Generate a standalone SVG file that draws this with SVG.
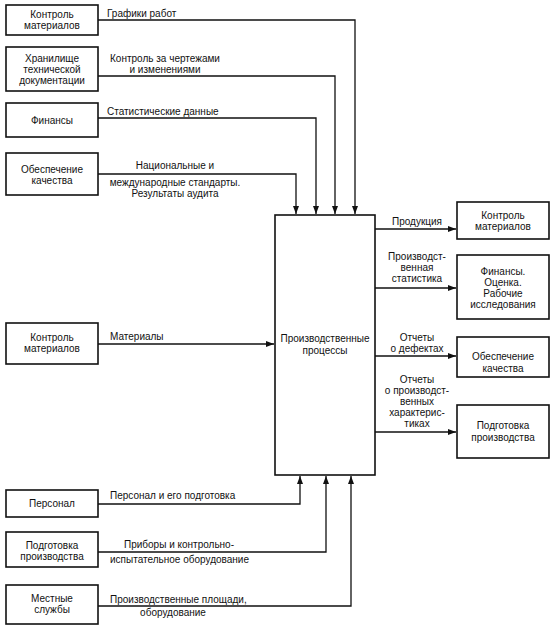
<svg xmlns="http://www.w3.org/2000/svg" width="555" height="629" viewBox="0 0 555 629">
<defs>
<marker id="ah" viewBox="0 0 8 6" refX="8" refY="3" markerWidth="8" markerHeight="6" markerUnits="userSpaceOnUse" orient="auto">
<path d="M0,0 L8,3 L0,6 Z" fill="#111"/>
</marker>
</defs>
<style>
.box{fill:#fff;stroke:#111;stroke-width:1.6}
.ln{fill:none;stroke:#111;stroke-width:1.3;marker-end:url(#ah)}
text{font-family:"Liberation Sans",Arial,sans-serif;font-size:10px;fill:#111}
.c{text-anchor:middle}
</style>
<rect width="555" height="629" fill="#fff"/>
<g id="connectors">
<path class="ln" d="M98,20 H355 V214"/>
<path class="ln" d="M98,76 H335 V214"/>
<path class="ln" d="M98,118 H316 V214"/>
<path class="ln" d="M98,174 H296 V214"/>
<path class="ln" d="M98,344 H274"/>
<path class="ln" d="M98,504 H300 V476"/>
<path class="ln" d="M98,552 H326 V476"/>
<path class="ln" d="M98,606 H351 V476"/>
<path class="ln" d="M375,229 H456"/>
<path class="ln" d="M375,288 H456"/>
<path class="ln" d="M375,356 H456"/>
<path class="ln" d="M375,432 H456"/>
<text x="107" y="17">Графики работ</text>
<text class="c" x="165" y="62">Контроль за чертежами</text>
<text class="c" x="165" y="73">и изменениями</text>
<text x="107" y="115">Статистические данные</text>
<text class="c" x="175" y="169">Национальные и</text>
<text class="c" x="175" y="186">международные стандарты.</text>
<text class="c" x="175" y="197">Результаты аудита</text>
<text x="110" y="340">Материалы</text>
<text x="110" y="499">Персонал и его подготовка</text>
<text class="c" x="179" y="548">Приборы и контрольно-</text>
<text x="110" y="563">испытательное оборудование</text>
<text x="110" y="603">Производственные площади,</text>
<text class="c" x="173" y="616">оборудование</text>
<text class="c" x="417" y="225">Продукция</text>
<text class="c" x="417" y="260">Производст-</text>
<text class="c" x="417" y="271">венная</text>
<text class="c" x="417" y="282">статистика</text>
<text class="c" x="417" y="341">Отчеты</text>
<text class="c" x="417" y="352">о дефектах</text>
<text class="c" x="417" y="383">Отчеты</text>
<text class="c" x="417" y="394">о производст-</text>
<text class="c" x="417" y="405">венных</text>
<text class="c" x="417" y="416">характерис-</text>
<text class="c" x="417" y="427">тиках</text>
</g>
<g id="n1"><rect class="box" x="6" y="5" width="92" height="30"/><text class="c" x="52" y="18">Контроль</text><text class="c" x="52" y="29">материалов</text></g>
<g id="n2"><rect class="box" x="6" y="47" width="92" height="44"/><text class="c" x="52" y="62">Хранилище</text><text class="c" x="52" y="73">технической</text><text class="c" x="52" y="84">документации</text></g>
<g id="n3"><rect class="box" x="6" y="103" width="92" height="34"/><text class="c" x="52" y="124">Финансы</text></g>
<g id="n4"><rect class="box" x="6" y="153" width="92" height="42"/><text class="c" x="52" y="173">Обеспечение</text><text class="c" x="52" y="184">качества</text></g>
<g id="n5"><rect class="box" x="6" y="323" width="92" height="41"/><text class="c" x="52" y="341">Контроль</text><text class="c" x="52" y="352">материалов</text></g>
<g id="n6"><rect class="box" x="6" y="490" width="92" height="27"/><text class="c" x="52" y="507">Персонал</text></g>
<g id="n7"><rect class="box" x="6" y="532" width="92" height="35"/><text class="c" x="52" y="549">Подготовка</text><text class="c" x="52" y="560">производства</text></g>
<g id="n8"><rect class="box" x="6" y="585" width="92" height="39"/><text class="c" x="52" y="602">Местные</text><text class="c" x="52" y="613">службы</text></g>
<g id="center"><rect class="box" x="275" y="215" width="100" height="260"/><text class="c" x="325" y="342">Производственные</text><text class="c" x="325" y="354">процессы</text></g>
<g id="r1"><rect class="box" x="457" y="202" width="92" height="37"/><text class="c" x="503" y="219">Контроль</text><text class="c" x="503" y="230">материалов</text></g>
<g id="r2"><rect class="box" x="457" y="255" width="92" height="64"/><text class="c" x="503" y="275">Финансы.</text><text class="c" x="503" y="286">Оценка.</text><text class="c" x="503" y="297">Рабочие</text><text class="c" x="503" y="308">исследования</text></g>
<g id="r3"><rect class="box" x="457" y="337" width="92" height="40"/><text class="c" x="503" y="360">Обеспечение</text><text class="c" x="503" y="372">качества</text></g>
<g id="r4"><rect class="box" x="457" y="405" width="92" height="53"/><text class="c" x="503" y="429">Подготовка</text><text class="c" x="503" y="441">производства</text></g>
</svg>
